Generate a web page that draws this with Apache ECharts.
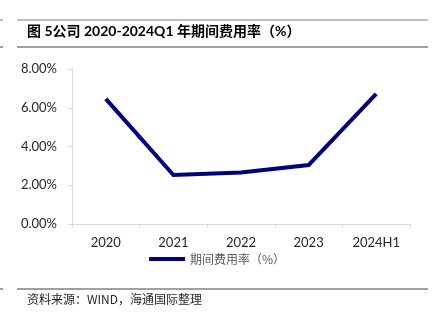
<!DOCTYPE html>
<html>
<head>
<meta charset="utf-8">
<script src="https://cdn.jsdelivr.net/npm/echarts@6/dist/echarts.min.js"></script>
<style>
  html, body { margin: 0; padding: 0; background: #fff; }
  #chart { width: 435px; height: 324px; }
</style>
</head>
<body>
<div id="chart"></div>
<script>
// Period expense ratio by year (%)
const categories = ['2020', '2021', '2022', '2023', '2024H1'];
const expenseRatio = [6.46, 2.53, 2.66, 3.04, 6.72];
const yTicks = { min: 0, max: 8, interval: 2 };

const titleText = '图 5公司 2020-2024Q1 年期间费用率（%）';
const seriesName = '期间费用率（%）';
const sourceText = '资料来源：WIND，海通国际整理';

const chart = echarts.init(document.getElementById('chart'), null, { renderer: 'canvas' });

const ruleColor = '#7f7f7f';
const latin = 'Lato, "Noto Sans CJK SC", sans-serif';

chart.setOption({
  animation: false,
  backgroundColor: '#fff',
  grid: { left: 72, right: 25, top: 69, bottom: 100, containLabel: false },
  legend: {
    data: [{ name: seriesName, icon: 'rect' }],
    left: 144,
    top: 248,
    itemWidth: 36,
    itemHeight: 4,
    itemGap: 4,
    textStyle: { fontFamily: '"Noto Sans CJK SC", sans-serif', fontSize: 12, color: '#595959' }
  },
  xAxis: {
    type: 'category',
    data: categories,
    boundaryGap: true,
    axisLine: { lineStyle: { color: '#d9d9d9', width: 1 } },
    axisTick: { show: true, inside: false, length: 4, alignWithLabel: false, lineStyle: { color: '#d9d9d9' } },
    axisLabel: { margin: 12, fontFamily: latin, fontSize: 13, color: '#262626' },
    splitLine: { show: false }
  },
  yAxis: {
    type: 'value',
    min: yTicks.min,
    max: yTicks.max,
    interval: yTicks.interval,
    axisLine: { show: true, lineStyle: { color: '#d9d9d9', width: 1 } },
    axisTick: { show: true, inside: false, length: 4, lineStyle: { color: '#d9d9d9' } },
    axisLabel: {
      margin: 15,
      fontFamily: latin,
      fontSize: 13,
      color: '#262626',
      formatter: v => v.toFixed(2) + '%'
    },
    splitLine: { show: false }
  },
  series: [{
    name: seriesName,
    type: 'line',
    data: expenseRatio,
    symbol: 'none',
    lineStyle: { color: '#000080', width: 4, join: 'miter' },
    itemStyle: { color: '#000080' }
  }],
  graphic: [
    { type: 'line', shape: { x1: 17, y1: 20, x2: 428, y2: 20 }, style: { stroke: ruleColor, lineWidth: 1 } },
    { type: 'line', shape: { x1: 0, y1: 20, x2: 3, y2: 20 }, style: { stroke: ruleColor, lineWidth: 1 } },
    {
      type: 'text', left: 27, top: 24,
      style: { text: titleText, font: 'bold 14px Lato, "Noto Sans CJK SC", sans-serif', fill: '#000' }
    },
    { type: 'line', shape: { x1: 17, y1: 47, x2: 428, y2: 47 }, style: { stroke: '#404040', lineWidth: 1 } },
    { type: 'line', shape: { x1: 0, y1: 47, x2: 3, y2: 47 }, style: { stroke: '#404040', lineWidth: 1 } },
    { type: 'line', shape: { x1: 17, y1: 289, x2: 428, y2: 289 }, style: { stroke: '#404040', lineWidth: 1 } },
    { type: 'line', shape: { x1: 0, y1: 289, x2: 3, y2: 289 }, style: { stroke: '#404040', lineWidth: 1 } },
    {
      type: 'text', left: 27, top: 293,
      style: { text: sourceText, font: '12px "Noto Sans CJK SC", sans-serif', fill: '#262626' }
    }
  ]
});
</script>
</body>
</html>
